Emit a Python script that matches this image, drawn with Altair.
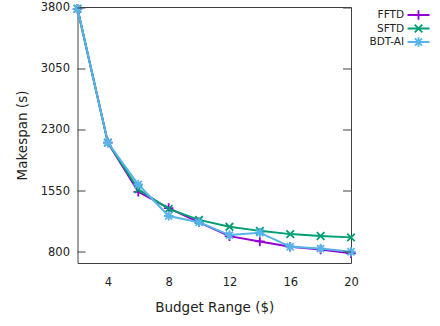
import altair as alt
import pandas as pd

# ---- data ----
budget = [2, 4, 6, 8, 10, 12, 14, 16, 18, 20]
fftd = [3790, 2145, 1540, 1340, 1165, 995, 930, 866, 832, 785]
sftd = [3790, 2145, 1572, 1330, 1195, 1110, 1060, 1020, 997, 980]
bdtai = [3790, 2145, 1630, 1243, 1165, 1008, 1038, 865, 842, 803]

series_names = ["FFTD", "SFTD", "BDT-AI"]
series_colors = ["#9400D3", "#009E73", "#56B4E9"]
series_shapes = [
    "M-1,0H1M0,-1V1",
    "M-0.8,-0.8L0.8,0.8M-0.8,0.8L0.8,-0.8",
    "M-1,0H1M0,-1V1M-0.75,-0.75L0.75,0.75M-0.75,0.75L0.75,-0.75",
]
x_ticks = [4, 8, 12, 16, 20]
y_ticks = [800, 1550, 2300, 3050, 3800]

FONT = "DejaVu Sans"
W, H = 273.5, 256

df = pd.DataFrame({
    "budget": budget * 3,
    "makespan": fftd + sftd + bdtai,
    "series": [s for s in series_names for _ in budget],
})

color_scale = alt.Scale(domain=series_names, range=series_colors)
shape_scale = alt.Scale(domain=series_names, range=series_shapes)

x_enc = alt.X(
    "budget:Q",
    scale=alt.Scale(domain=[2, 20], nice=False, zero=False),
    axis=alt.Axis(values=x_ticks, title="Budget Range ($)", labelPadding=13,
                  titlePadding=13, labelFlush=False, format="d"),
)
y_enc = alt.Y(
    "makespan:Q",
    scale=alt.Scale(domain=[665, 3812], nice=False, zero=False),
    axis=alt.Axis(values=y_ticks, title="Makespan (s)", labelPadding=8,
                  titlePadding=11, labelFlush=False, format="d"),
)

layers = []
for name in series_names:
    base = alt.Chart(df).transform_filter(alt.datum.series == name)
    layers.append(
        base.mark_line(strokeWidth=2).encode(
            x=x_enc, y=y_enc,
            color=alt.Color("series:N", scale=color_scale, legend=None),
        )
    )
    layers.append(
        base.mark_point(filled=False, strokeWidth=1.8, size=90, opacity=1).encode(
            x=x_enc, y=y_enc,
            color=alt.Color("series:N", scale=color_scale, legend=None),
            shape=alt.Shape("series:N", scale=shape_scale, legend=None),
        )
    )

tick_df = pd.DataFrame({"makespan": y_ticks})
tick_y = alt.Y("makespan:Q")
layers.append(
    alt.Chart(tick_df).mark_rule(color="#404040", strokeWidth=1).encode(
        y=tick_y, x=alt.value(0), x2=alt.value(8)
    )
)
layers.append(
    alt.Chart(tick_df).mark_rule(color="#404040", strokeWidth=1).encode(
        y=tick_y, x=alt.value(W - 8), x2=alt.value(W)
    )
)
main = alt.layer(*layers)

# ---- legend (gnuplot style: label left of sample) ----
leg_df = pd.DataFrame({"series": series_names, "row": [0, 1, 2]})
ly = alt.Y("row:Q", scale=alt.Scale(domain=[0, 2], range=[8, 35]), axis=None)
leg_text = alt.Chart(leg_df).mark_text(
    align="right", baseline="middle", fontSize=10.5, font=FONT, color="#222222"
).encode(y=ly, x=alt.value(326.5), text="series:N")
leg_rule = alt.Chart(leg_df).mark_rule(strokeWidth=2).encode(
    y=ly, x=alt.value(330), x2=alt.value(352),
    color=alt.Color("series:N", scale=color_scale, legend=None),
)
leg_pt = alt.Chart(leg_df).mark_point(filled=False, strokeWidth=1.8, size=90, opacity=1).encode(
    y=ly, x=alt.value(341),
    color=alt.Color("series:N", scale=color_scale, legend=None),
    shape=alt.Shape("series:N", scale=shape_scale, legend=None),
)
legend = alt.layer(leg_rule, leg_pt, leg_text)

chart = (
    alt.layer(main, legend)
    .resolve_scale(y="independent")
    .properties(
        width=W, height=H,
        autosize=alt.AutoSizeParams(type="none"),
        padding={"left": 77.5, "top": 7, "right": 440 - 77.5 - W, "bottom": 326 - 7 - H},
        background="white",
    )
    .configure_view(stroke="#404040", strokeWidth=1)
    .configure_axis(
        grid=False, domain=False, ticks=False, tickSize=0,
        labelFont=FONT, labelFontSize=11.5, labelColor="#222222",
        titleFont=FONT, titleFontSize=13.5, titleFontWeight="normal", titleColor="#222222",
    )
)

chart.save("out.html", embed_options={"renderer": "svg", "actions": False})
